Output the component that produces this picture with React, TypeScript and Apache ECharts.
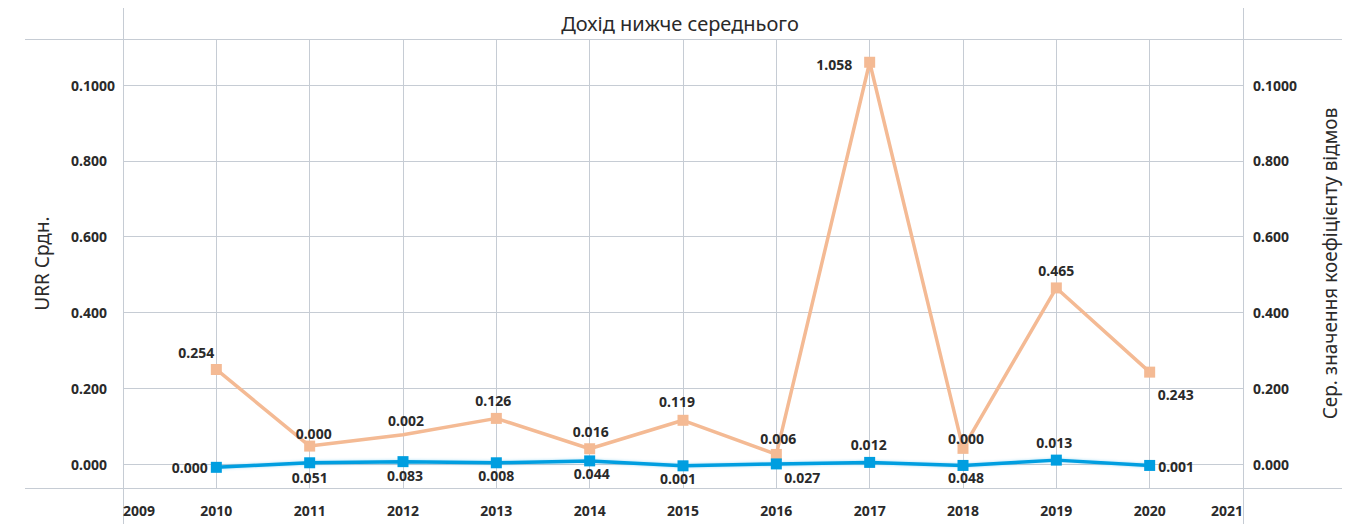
import React, { useEffect, useRef } from "react";
import * as echarts from "echarts";

// ---- data ----
const years = [2010, 2011, 2012, 2013, 2014, 2015, 2016, 2017, 2018, 2019, 2020];
const orangeValues = [0.25, 0.048, 0.078, 0.121, 0.041, 0.116, 0.026, 1.06, 0.042, 0.465, 0.243];
const orangeLabels = ["0.254", "0.000", "0.002", "0.126", "0.016", "0.119", "0.006", "1.058", "0.000", "0.465", "0.243"];
const blueValues = [-0.008, 0.004, 0.007, 0.004, 0.009, -0.004, 0.001, 0.005, -0.003, 0.011, -0.003];
const blueLabels = ["0.000", "0.051", "0.083", "0.008", "0.044", "0.001", "0.027", "0.012", "0.048", "0.013", "0.001"];
const orangeNoMarkerYears = [2012];
const yTickValues = [0, 0.2, 0.4, 0.6, 0.8, 1.0];
const yTickLabels = ["0.000", "0.200", "0.400", "0.600", "0.800", "0.1000"];
const xMin = 2009;
const xMax = 2021;
const titleText = "Дохід нижче середнього";
const leftAxisName = "URR Срдн.";
const rightAxisName = "Сер. значення коефіцієнту відмов";

// ---- label placement (style) ----
const orangePlacement: [string, number, number][] = [
  ["top", -20, 1],
  ["top", 4, 5],
  ["top", 3, 3],
  ["top", -3, 0],
  ["top", 1, 0],
  ["top", -6, -1],
  ["top", 2, 2],
  ["left", -7, 2],
  ["top", 3, 8],
  ["top", 0, 0],
  ["bottom", 26, 5],
];
const bluePlacement: [string, number, number][] = [
  ["left", 2, 0],
  ["bottom", 0, -3],
  ["bottom", 2, -4],
  ["bottom", 0, -5],
  ["bottom", 2, -5],
  ["bottom", -5, -5],
  ["bottom", 26, -4],
  ["top", -1, 0],
  ["bottom", 3, -5],
  ["top", -2, 0],
  ["right", -2, 1],
];

const FONT = "'Noto Sans', 'DejaVu Sans', sans-serif";
const TEXT = "#2a2a2a";
const GRID = "#C6CCD4";
const ORANGE = "#F4BA94";
const BLUE = "#009EE0";

function fmtY(v: number) {
  const i = yTickValues.findIndex((t) => Math.abs(t - v) < 1e-9);
  return i >= 0 ? yTickLabels[i] : "";
}

export default function App() {
  const ref = useRef<HTMLDivElement>(null);
  useEffect(() => {
    if (!ref.current) return;
    const chart = echarts.init(ref.current, null, { renderer: "svg" });
    const labelStyle = { show: true, fontFamily: FONT, fontSize: 14, fontWeight: "bold", color: TEXT };
    const orangeData = years.map((y, i) => {
      const [pos, dx, dy] = orangePlacement[i];
      const item: any = {
        value: [y, orangeValues[i]],
        label: { ...labelStyle, position: pos, offset: [dx, dy], formatter: orangeLabels[i] },
      };
      if (orangeNoMarkerYears.includes(y)) item.itemStyle = { color: "rgba(0,0,0,0)" };
      return item;
    });
    const blueData = years.map((y, i) => {
      const [pos, dx, dy] = bluePlacement[i];
      return {
        value: [y, blueValues[i]],
        label: { ...labelStyle, position: pos, offset: [dx, dy], formatter: blueLabels[i] },
      };
    });
    const yBase = {
      type: "value",
      min: -0.0625,
      max: 1.1213,
      axisLine: { show: false },
      axisTick: { show: false, customValues: yTickValues },
      nameLocation: "middle",
      nameRotate: 90,
      nameTextStyle: { fontFamily: FONT, fontSize: 19, color: TEXT },
    };
    chart.setOption({
      animation: false,
      textStyle: { fontFamily: FONT },
      title: {
        text: titleText,
        left: 675,
        top: 8,
        textAlign: "center",
        textStyle: { fontFamily: FONT, fontSize: 20, fontWeight: "normal", color: TEXT },
      },
      grid: { left: 123, right: 117, top: 39, bottom: 36, containLabel: false },
      xAxis: {
        type: "value",
        min: xMin,
        max: xMax,
        interval: 1,
        axisLine: { show: false },
        axisTick: { show: false },
        splitLine: { show: true, lineStyle: { color: GRID, width: 1 } },
        axisLabel: {
          show: true,
          showMinLabel: true,
          showMaxLabel: true,
          alignMinLabel: "left",
          alignMaxLabel: "right",
          margin: 15,
          fontFamily: FONT,
          fontSize: 14,
          fontWeight: "bold",
          color: TEXT,
          formatter: (v: number) => String(v),
        },
      },
      yAxis: [
        {
          ...yBase,
          position: "left",
          name: leftAxisName,
          nameGap: 72,
          splitLine: { show: true, lineStyle: { color: GRID, width: 1 } },
          axisLabel: {
            customValues: yTickValues,
            align: "left",
            margin: 52,
            fontFamily: FONT,
            fontSize: 14,
            fontWeight: "bold",
            color: TEXT,
            formatter: fmtY,
          },
        },
        {
          ...yBase,
          position: "right",
          name: rightAxisName,
          nameGap: 77,
          splitLine: { show: false },
          axisLabel: {
            customValues: yTickValues,
            align: "left",
            margin: 10,
            fontFamily: FONT,
            fontSize: 14,
            fontWeight: "bold",
            color: TEXT,
            formatter: fmtY,
          },
        },
      ],
      graphic: [
        { type: "line", shape: { x1: 25, y1: 39.5, x2: 1342, y2: 39.5 }, style: { stroke: GRID, lineWidth: 1 }, silent: true },
        { type: "line", shape: { x1: 25, y1: 488.5, x2: 1342, y2: 488.5 }, style: { stroke: GRID, lineWidth: 1 }, silent: true },
        { type: "line", shape: { x1: 123.5, y1: 8, x2: 123.5, y2: 524 }, style: { stroke: GRID, lineWidth: 1 }, silent: true },
        { type: "line", shape: { x1: 1243.5, y1: 8, x2: 1243.5, y2: 524 }, style: { stroke: GRID, lineWidth: 1 }, silent: true },
      ],
      series: [
        {
          name: rightAxisName,
          type: "line",
          yAxisIndex: 0,
          data: orangeData,
          symbol: "rect",
          symbolSize: 11,
          clip: false,
          lineStyle: { color: ORANGE, width: 3.5 },
          itemStyle: { color: ORANGE },
          z: 2,
        },
        {
          name: leftAxisName,
          type: "line",
          yAxisIndex: 0,
          data: blueData,
          symbol: "rect",
          symbolSize: 11,
          clip: false,
          lineStyle: { color: BLUE, width: 3.5, shadowColor: "rgba(0,158,224,0.35)", shadowBlur: 3 },
          itemStyle: { color: BLUE },
          z: 3,
        },
      ],
    });
    return () => chart.dispose();
  }, []);
  return (
    <div
      ref={ref}
      style={{ position: "absolute", left: 0, top: 0, width: 1360, height: 524, background: "#fff" }}
    />
  );
}
